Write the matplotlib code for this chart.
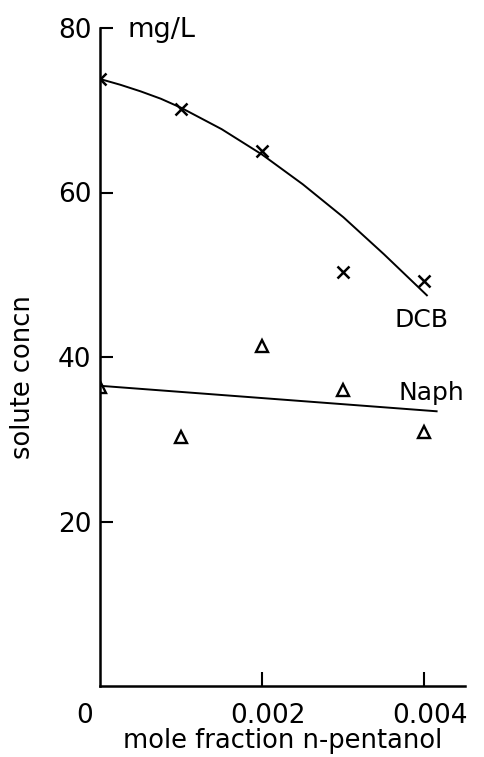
import numpy as np
import matplotlib
matplotlib.use("Agg")
import matplotlib.pyplot as plt
import matplotlib.transforms as mtransforms

plt.rcParams['font.family'] = ['DejaVu Sans']

# measured solute concentrations (mg/L) vs mole fraction of n-pentanol
x_pentanol = [0.0, 0.001, 0.002, 0.003, 0.004]
dcb_conc = [73.8, 70.1, 65.1, 50.3, 49.3]
naph_conc = [36.4, 30.3, 41.3, 36.0, 30.9]

# smooth trend drawn through the DCB data
dcb_curve_x = [0.0, 0.00025, 0.0005, 0.00075, 0.001, 0.0015, 0.002, 0.0025,
               0.003, 0.0035, 0.00403]
dcb_curve_y = [73.8, 73.1, 72.3, 71.4, 70.3, 67.7, 64.6, 61.0, 57.0, 52.5, 47.5]

# straight trend line for naphthalene
naph_line_x = [0.0, 0.00415]
naph_line_y = [36.5, 33.4]

x_ticks = [0.0, 0.002, 0.004]
x_tick_labels = ['0', '0.002', '0.004']
y_ticks = [20, 40, 60, 80]
y_tick_labels = ['20', '40', '60', '80']

fig = plt.figure(figsize=(4.84, 7.57), dpi=100)
ax = fig.add_axes([100 / 484, 71 / 757, 365 / 484, 658 / 757])

ax.plot(dcb_curve_x, dcb_curve_y, color='black', lw=1.4,
        solid_joinstyle='round')
ax.plot(naph_line_x, naph_line_y, color='black', lw=1.4)
ax.plot(x_pentanol, dcb_conc, ls='none', marker='x', ms=8, mew=1.8, color='black')
ax.plot(x_pentanol, naph_conc, ls='none', marker='^', ms=8, mew=1.7,
        mfc='none', mec='black')

ax.set_xlim(0, 0.0045)
ax.set_ylim(0, 80)
for side in ('top', 'right'):
    ax.spines[side].set_visible(False)
for side in ('left', 'bottom'):
    ax.spines[side].set_linewidth(1.8)

ax.set_xticks(x_ticks)
ax.set_xticklabels(x_tick_labels)
ax.set_yticks(y_ticks)
ax.set_yticklabels(y_tick_labels)
ax.tick_params(axis='y', direction='in', length=9, width=1.5, pad=6,
               labelsize=19)
ax.tick_params(axis='x', direction='in', length=10, width=1.5, pad=12,
               labelsize=19)
ax.xaxis.get_major_ticks()[0].tick1line.set_visible(False)

# nudge the tick labels sideways
x_label_shift = [-15, 6, 6]
for lab, dx in zip(ax.get_xticklabels(), x_label_shift):
    lab.set_transform(lab.get_transform() +
                      mtransforms.ScaledTranslation(dx / 100, 0, fig.dpi_scale_trans))

ax.set_xlabel('mole fraction n-pentanol', fontsize=18.5)
ax.xaxis.label.set_va('top')
ax.xaxis.set_label_coords(0.5, -0.064)
ax.set_ylabel('solute concn', fontsize=18.5)
ax.yaxis.label.set_va('center')
ax.yaxis.set_label_coords(-0.21, 0.47)

ax.text(0.074, 0.997, 'mg/L', transform=ax.transAxes, fontsize=19.5,
        ha='left', va='center')
ax.text(0.00396, 44.5, 'DCB', fontsize=18, ha='center', va='center')
ax.text(0.00408, 35.6, 'Naph', fontsize=18, ha='center', va='center')

fig.savefig('out.png', dpi=100)
